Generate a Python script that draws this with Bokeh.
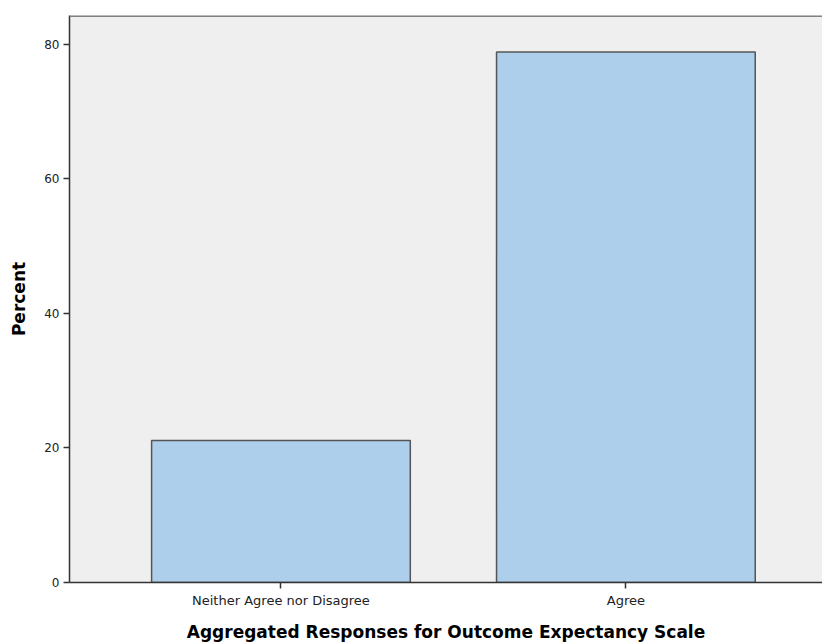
from bokeh.plotting import figure
from bokeh.models import Range1d, FixedTicker, Span, ColumnDataSource
from bokeh.embed import file_html
from bokeh.resources import INLINE

categories = ["Neither Agree nor Disagree", "Agree"]
percents = [21.1, 78.9]
y_ticks = [0, 20, 40, 60, 80]

positions = list(range(len(categories)))
source = ColumnDataSource(dict(x=positions, top=percents, cat=categories))

p = figure(width=822, height=644, output_backend="svg", toolbar_location=None,
           x_range=Range1d(-0.613, 1.570), y_range=Range1d(0, 84.31))
p.min_border_left = 69
p.min_border_right = 0
p.min_border_top = 15
p.min_border_bottom = 61
p.background_fill_color = "#efefef"
p.border_fill_color = "white"
p.outline_line_color = None
p.grid.visible = False

p.vbar(x="x", top="top", width=0.75, bottom=0, source=source,
       fill_color="#aecfec", line_color="#555555", line_width=1.5)

p.add_layout(Span(location=84.31, dimension="width", line_color="#808080", line_width=3))

p.xaxis.ticker = FixedTicker(ticks=positions)
p.xaxis.major_label_overrides = {i: c for i, c in zip(positions, categories)}
p.yaxis.ticker = FixedTicker(ticks=y_ticks)

for ax in (p.xaxis[0], p.yaxis[0]):
    ax.axis_line_color = "#333333"
    ax.axis_line_width = 1.5
    ax.major_tick_line_color = "#333333"
    ax.major_tick_line_width = 1.5
    ax.major_tick_out = 6
    ax.major_tick_in = 0
    ax.minor_tick_line_color = None
    ax.major_label_text_font = "DejaVu Sans"
    ax.major_label_text_color = "#222222"
    ax.axis_label_text_font = "DejaVu Sans"
    ax.axis_label_text_font_style = "bold"
    ax.axis_label_text_color = "black"
    ax.axis_label_text_font_size = "17px"

p.yaxis.major_label_text_font_size = "12px"
p.xaxis.major_label_text_font_size = "13px"
p.xaxis.major_label_standoff = 4
p.yaxis.major_label_standoff = 4
p.xaxis.axis_label = "Aggregated Responses for Outcome Expectancy Scale"
p.yaxis.axis_label = "Percent"
p.xaxis.axis_label_standoff = 11
p.yaxis.axis_label_standoff = 12

open("out.html", "w").write(file_html(p, INLINE))
